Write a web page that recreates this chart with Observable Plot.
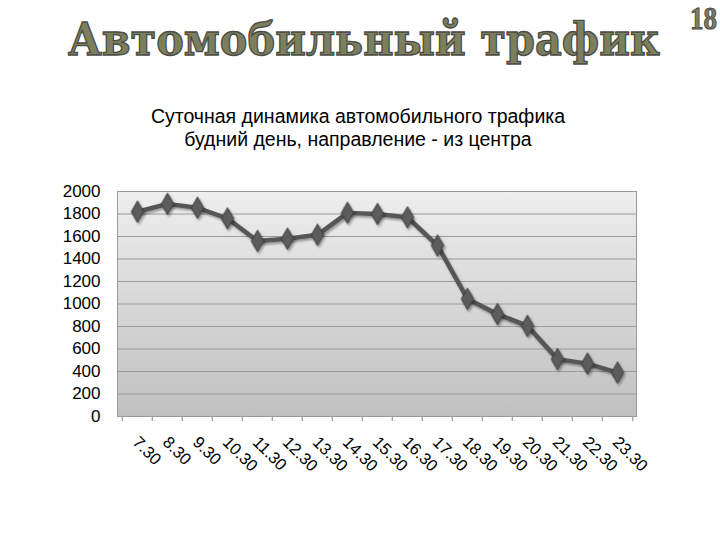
<!DOCTYPE html>
<html>
<head>
<meta charset="utf-8">
<script src="https://cdn.jsdelivr.net/npm/d3@7"></script>
<script src="https://cdn.jsdelivr.net/npm/@observablehq/plot@0.6"></script>
<style>
  html, body { margin: 0; padding: 0; background: #fff; }
  #wrap { position: relative; width: 720px; height: 540px; overflow: hidden; background: #fff; }
  #title { position: absolute; left: 0; top: 0; }
  #sub { position: absolute; left: -2px; top: 105px; width: 720px; text-align: center;
         font-family: "Liberation Sans", Arial, sans-serif; font-size: 19.5px; line-height: 23px; color: #000; }
  #chart { position: absolute; left: 0; top: 170px; }
</style>
</head>
<body>
<div id="wrap">
  <svg id="title" width="720" height="80"></svg>
  <div id="sub">Суточная динамика автомобильного трафика<br>будний день, направление - из центра</div>
  <div id="chart"></div>
</div>
<script>
const titleText = "Автомобильный трафик";
const pageNumber = "18";
const times = ["7.30","8.30","9.30","10.30","11.30","12.30","13.30","14.30","15.30","16.30","17.30","18.30","19.30","20.30","21.30","22.30","23.30"];
const traffic = [1820,1890,1855,1760,1560,1580,1615,1810,1800,1770,1520,1045,910,805,510,470,390];
const yTicks = [0,200,400,600,800,1000,1200,1400,1600,1800,2000];

const data = times.map((t, i) => ({time: t, value: traffic[i]}));

// Title and page number, each squeezed horizontally to its measured box
function fitText(svg, str, x, y, targetW, family, size, sw) {
  const g = svg.append("g");
  const t = g.append("text")
    .attr("x", 0).attr("y", 0)
    .attr("font-family", family).attr("font-weight", "bold").attr("font-size", size)
    .attr("fill", "#7b7f5c").attr("stroke", "#4a4a46").attr("stroke-width", sw)
    .text(str);
  const w = t.node().getComputedTextLength() || targetW;
  g.attr("transform", `translate(${x},${y}) scale(${targetW / w},1)`);
}
const tsvg = d3.select("#title");
fitText(tsvg, titleText, 68, 55, 592, "DejaVu Serif", 44, 1.3);
fitText(tsvg, pageNumber, 690, 29, 27, "Liberation Serif", 32, 1);

const W = 720, H = 340, mL = 117, mR = 84, mT = 21, mB = 94;
const step = (W - mL - mR) / times.length;

const chart = Plot.plot({
  width: W, height: H,
  marginLeft: mL, marginRight: mR, marginTop: mT, marginBottom: mB,
  style: {fontFamily: "Liberation Sans, Arial, sans-serif", color: "#000", background: "transparent"},
  x: {type: "point", domain: times, padding: 0.5, label: null},
  y: {domain: [0, 2000], label: null},
  marks: [
    Plot.frame({fill: "url(#plotGrad)", stroke: "none"}),
    Plot.gridY(yTicks, {stroke: "#9a9a9a", strokeOpacity: 1, strokeWidth: 1}),
    Plot.frame({stroke: "#9a9a9a", strokeWidth: 1}),
    Plot.axisY(yTicks, {tickSize: 0, tickPadding: 17, fontSize: 17, tickFormat: d => String(d)}),
    Plot.axisX({tickSize: 5, tickFormat: () => "", dx: -step / 2, stroke: "#888"}),
    Plot.axisX([times[times.length - 1]], {tickSize: 5, tickFormat: () => "", dx: step / 2, stroke: "#888"}),
    Plot.axisX({tickSize: 0, tickRotate: 45, fontSize: 16.5, tickPadding: 23, dx: -2}),
    Plot.ruleY([0], {stroke: "#9a9a9a"}),
    Plot.line(data, {x: "time", y: "value", stroke: "#565656", strokeWidth: 4.5, strokeLinejoin: "round"}),
    Plot.dot(data, {x: "time", y: "value", symbol: "diamond", r: 6.5, fill: "#5b5b5b", stroke: "#3c3c3c", strokeWidth: 1})
  ]
});

const defs = d3.select(chart).insert("defs", ":first-child");
const g = defs.append("linearGradient").attr("id", "plotGrad").attr("x1", 0).attr("y1", 0).attr("x2", 0).attr("y2", 1);
g.append("stop").attr("offset", "0%").attr("stop-color", "#eeeeee");
g.append("stop").attr("offset", "100%").attr("stop-color", "#c0c0c0");
const f = defs.append("filter").attr("id", "shadow").attr("x", "-10%").attr("y", "-10%").attr("width", "130%").attr("height", "130%");
f.append("feDropShadow").attr("dx", 1.5).attr("dy", 2).attr("stdDeviation", 1.2).attr("flood-color", "#000").attr("flood-opacity", 0.35);
d3.select(chart).selectAll("g[aria-label='line'], g[aria-label='dot']").attr("filter", "url(#shadow)");

document.getElementById("chart").appendChild(chart);
</script>
</body>
</html>
